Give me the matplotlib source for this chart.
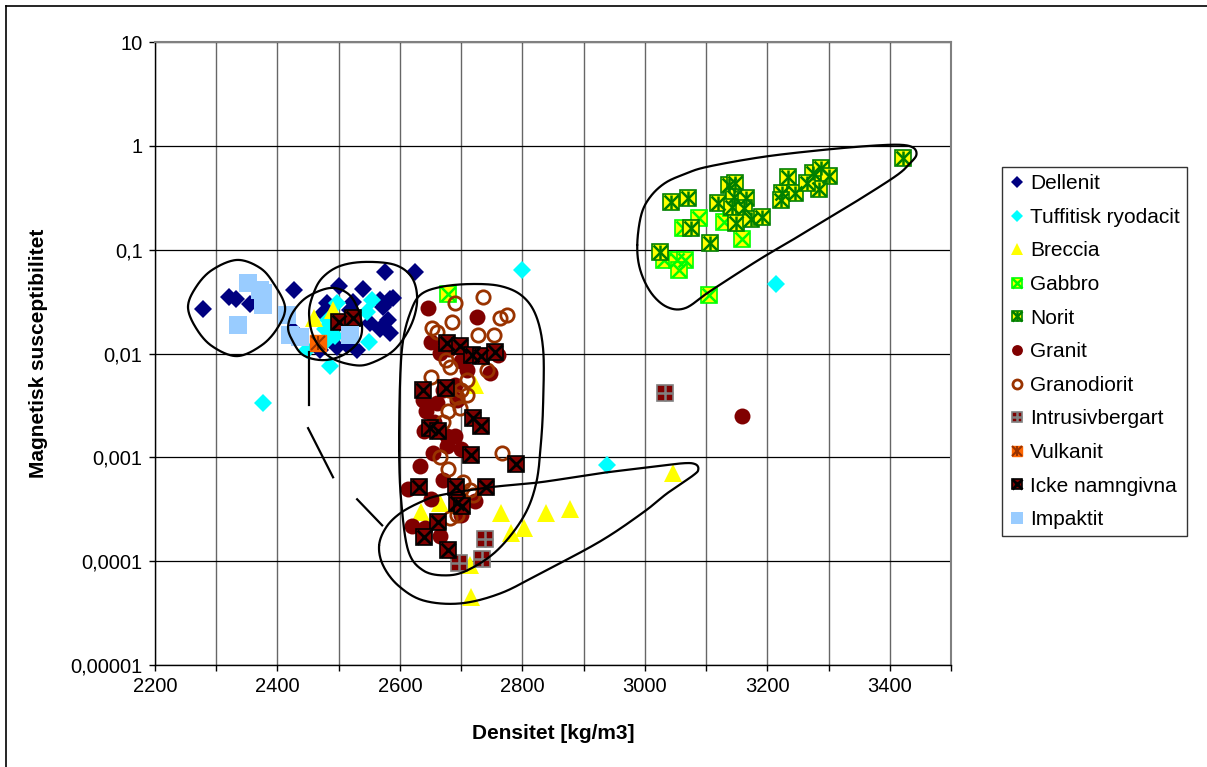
import numpy as np
import matplotlib.pyplot as plt
from matplotlib.lines import Line2D
from matplotlib.legend_handler import HandlerTuple
from matplotlib.ticker import FixedLocator, FixedFormatter, NullLocator

plt.rcParams['font.family'] = ['Liberation Sans', 'DejaVu Sans']

# density [kg/m3] and magnetic susceptibility per rock type
dellenit_x = [2278, 2321, 2332, 2355, 2427, 2500, 2540, 2576, 2584, 2568, 2573, 2581, 2584,
              2524, 2519, 2497, 2530, 2481, 2475, 2470, 2551, 2568, 2486, 2513, 2625, 2589, 2425]
dellenit_y = [0.0268, 0.0348, 0.0333, 0.030, 0.0408, 0.045, 0.0415, 0.0614, 0.0337, 0.0329, 0.0281,
              0.0209, 0.0156, 0.0314, 0.0263, 0.0116, 0.0107, 0.0304, 0.0243, 0.0107, 0.0195, 0.0174,
              0.0136, 0.012, 0.061, 0.034, 0.017]

tuff_x = [2377, 2486, 2497, 2554, 2546, 2549, 2478, 2448, 2481, 2494, 2483, 2800, 2939, 3215]
tuff_y = [0.0033, 0.0075, 0.0304, 0.0329, 0.025, 0.0128, 0.0174, 0.0107, 0.0136, 0.0147, 0.0209,
          0.0637, 0.00084, 0.0467]

breccia_x = [2459, 2491, 2723, 3046, 2635, 2665, 2765, 2803, 2782, 2839, 2877, 2714, 2716]
breccia_y = [0.0218, 0.0263, 0.0050, 0.0007, 0.00030, 0.00036, 0.00029, 0.00021, 0.000185,
             0.00029, 0.00032, 0.000092, 0.000045]

gabbro_x = [2678, 3088, 3063, 3129, 3159, 3031, 3052, 3066, 3055, 3104, 3140, 3160]
gabbro_y = [0.0374, 0.201, 0.161, 0.186, 0.126, 0.0796, 0.0796, 0.0796, 0.0637, 0.0366, 0.25, 0.2]

norit_x = [3043, 3071, 3076, 3024, 3107, 3120, 3138, 3148, 3146, 3143, 3165, 3162, 3149, 3174,
           3192, 3224, 3234, 3245, 3275, 3287, 3300, 3285, 3265, 3422, 3222]
norit_y = [0.288, 0.315, 0.162, 0.095, 0.116, 0.282, 0.421, 0.440, 0.322, 0.258, 0.315, 0.252,
           0.181, 0.198, 0.207, 0.352, 0.502, 0.352, 0.549, 0.614, 0.514, 0.384, 0.440, 0.766, 0.301]

granit_x = [2646, 2726, 2650, 2666, 2760, 2747, 2710, 2638, 2661, 2693, 2643, 2677, 2690, 2677,
            2654, 2633, 2613, 2722, 2620, 2641, 2666, 3159, 2680, 2700, 2690, 2670, 2655, 2640,
            2700, 2670, 2650, 2700]
granit_y = [0.0274, 0.0224, 0.0129, 0.0101, 0.0097, 0.0065, 0.0069, 0.0036, 0.0033, 0.0036, 0.0028,
            0.0016, 0.0016, 0.00128, 0.00109, 0.00082, 0.00050, 0.00038, 0.00022, 0.00021, 0.000174,
            0.00249, 0.011, 0.0085, 0.005, 0.0045, 0.0022, 0.0018, 0.0012, 0.0006, 0.0004, 0.00028]

granodiorit_x = [2736, 2690, 2685, 2764, 2775, 2653, 2661, 2727, 2753, 2743, 2675, 2650, 2710,
                 2682, 2693, 2698, 2678, 2666, 2678, 2766, 2703, 2714, 2719, 2693, 2681, 2690,
                 2700, 2680, 2710, 2670]
granodiorit_y = [0.035, 0.0306, 0.0201, 0.0220, 0.0235, 0.0176, 0.0161, 0.0150, 0.0150, 0.0069,
                 0.0086, 0.0059, 0.0055, 0.0074, 0.0038, 0.0030, 0.0028, 0.0010, 0.00078, 0.0011,
                 0.00058, 0.00048, 0.00043, 0.00028, 0.00026, 0.012, 0.0045, 0.0045, 0.004, 0.0022]

intrusiv_x = [3033, 2739, 2734, 2697]
intrusiv_y = [0.0042, 0.000162, 0.000106, 0.0000953]

vulkanit_x = [2466]
vulkanit_y = [0.0126]

icke_x = [2500, 2524, 2677, 2698, 2717, 2733, 2755, 2638, 2675, 2649, 2662, 2719, 2732, 2716,
          2790, 2631, 2691, 2740, 2693, 2701, 2663, 2640, 2679]
icke_y = [0.0202, 0.0218, 0.0126, 0.0118, 0.0097, 0.0094, 0.0103, 0.0045, 0.0047, 0.0019, 0.0018,
          0.0024, 0.0020, 0.00105, 0.00086, 0.00052, 0.00052, 0.00052, 0.00036, 0.00034, 0.00024,
          0.00017, 0.000127]

impaktit_x = [2352, 2377, 2377, 2335, 2415, 2421, 2437, 2519, 2372]
impaktit_y = [0.0474, 0.038, 0.0293, 0.0188, 0.0234, 0.0150, 0.0145, 0.0150, 0.041]

# hand-drawn grouping outlines: density and log10(susceptibility) at the nodes
loop1_x = [2253.9, 2267.0, 2293.1, 2334.0, 2371.6, 2394.4, 2412.4, 2401.0, 2374.8, 2334.0, 2293.1, 2267.0]
loop1_ly = [-1.552, -1.360, -1.196, -1.099, -1.176, -1.331, -1.552, -1.745, -1.918, -2.025, -1.929, -1.755]
loop2_x = [2417.3, 2425.5, 2448.4, 2485.9, 2513.7, 2530.1, 2538.2, 2531.7, 2507.2, 2474.5, 2441.8, 2423.9]
loop2_ly = [-1.745, -1.601, -1.456, -1.369, -1.417, -1.552, -1.745, -1.890, -2.015, -2.064, -2.015, -1.870]
loop3_x = [2451.6, 2459.8, 2474.5, 2502.3, 2543.1, 2592.2, 2619.9, 2628.1, 2618.3, 2592.2, 2556.2,
           2526.8, 2485.9, 2459.8]
loop3_ly = [-1.610, -1.407, -1.263, -1.157, -1.118, -1.147, -1.272, -1.485, -1.726, -1.957, -2.085,
            -2.113, -2.035, -1.851]
loop4_x = [2598.7, 2600.3, 2605.2, 2616.7, 2633.0, 2665.7, 2714.7, 2763.7, 2799.7, 2822.5, 2834.0,
           2834.0, 2830.7, 2822.5, 2801.3, 2758.8, 2709.8, 2673.9, 2637.9, 2613.4, 2602.0]
loop4_ly = [-2.932, -2.257, -1.871, -1.610, -1.437, -1.360, -1.331, -1.350, -1.446, -1.639, -1.967,
            -2.449, -2.835, -3.250, -3.578, -3.896, -4.089, -4.137, -4.089, -3.896, -3.414]
loop5_x = [2566.0, 2577.5, 2600.3, 2633.0, 2665.7, 2747.4, 2829.1, 2927.1, 3008.8, 3062.7, 3082.4,
           3087.3, 3079.1, 3036.6, 2997.4, 2927.1, 2829.1, 2763.7, 2698.4, 2637.9, 2597.1, 2572.5]
loop5_ly = [-3.848, -3.674, -3.539, -3.433, -3.365, -3.288, -3.240, -3.153, -3.095, -3.057, -3.066,
            -3.115, -3.173, -3.346, -3.530, -3.809, -4.118, -4.311, -4.407, -4.378, -4.234, -4.041]
loop6_x = [2987.6, 2994.1, 3008.8, 3033.3, 3066.0, 3102.0, 3193.5, 3291.5, 3368.3, 3417.3, 3438.6,
           3443.5, 3433.7, 3412.4, 3356.9, 3302.9, 3249.0, 3193.5, 3139.5, 3102.0, 3066.0, 3036.6,
           3010.5, 2992.5]
loop6_ly = [-0.955, -0.665, -0.492, -0.357, -0.270, -0.202, -0.106, -0.039, 0.000, 0.010, -0.019,
            -0.087, -0.164, -0.280, -0.492, -0.685, -0.878, -1.071, -1.273, -1.418, -1.563, -1.553,
            -1.418, -1.196]
# broken connector between the Dellenit group and the Breccia loop
link_x = [(2451.6, 2451.6), (2450.0, 2490.8), (2530.1, 2571.0)]
link_ly = [(-1.985, -2.496), (-2.719, -3.192), (-3.404, -3.655)]


def closed_curve(xs, ys, n=24):
    # closed Catmull-Rom spline through the nodes
    p = np.column_stack([xs, ys])
    m = len(p)
    t = np.linspace(0, 1, n, endpoint=False)[:, None]
    out = []
    for i in range(m):
        p0, p1, p2, p3 = p[i - 1], p[i], p[(i + 1) % m], p[(i + 2) % m]
        seg = 0.5 * ((2 * p1) + (-p0 + p2) * t + (2 * p0 - 5 * p1 + 4 * p2 - p3) * t ** 2
                     + (-p0 + 3 * p1 - 3 * p2 + p3) * t ** 3)
        out.append(seg)
    out.append(p[:1])
    out = np.vstack(out)
    return out[:, 0], out[:, 1]


W, H = 1207, 767
fig = plt.figure(figsize=(W / 100, H / 100), dpi=100)
ax = fig.add_axes([155 / W, 1 - 665 / H, (951 - 155) / W, (665 - 42) / H])

sq = 11.6
h_dell = ax.plot(dellenit_x, dellenit_y, ls='none', marker='D', ms=9.2, mfc='#000080', mec='#000080', mew=0)[0]
h_tuff = ax.plot(tuff_x, tuff_y, ls='none', marker='D', ms=9.2, mfc='#00FFFF', mec='#00FFFF', mew=0)[0]
h_brec = ax.plot(breccia_x, breccia_y, ls='none', marker='^', ms=13, mfc='#FFFF00', mec='#FFFF00', mew=0)[0]

h_gab = ax.plot(gabbro_x, gabbro_y, ls='none', marker='s', ms=sq, mfc='#FFFF00', mec='#00FF00', mew=1.2)[0]
h_gab2 = ax.plot(gabbro_x, gabbro_y, ls='none', marker='x', ms=sq - 1, mec='#00FF00', mew=1.8)[0]

h_nor = ax.plot(norit_x, norit_y, ls='none', marker='s', ms=sq, mfc='#FFFF00', mec='#008000', mew=1.2)[0]
h_nor2 = ax.plot(norit_x, norit_y, ls='none', marker='x', ms=sq - 1, mec='#008000', mew=1.8)[0]
h_nor3 = ax.plot(norit_x, norit_y, ls='none', marker='|', ms=sq - 1, mec='#008000', mew=1.8)[0]

h_gran = ax.plot(granit_x, granit_y, ls='none', marker='o', ms=11.5, mfc='#800000', mec='#800000', mew=0)[0]
h_gdio = ax.plot(granodiorit_x, granodiorit_y, ls='none', marker='o', ms=9.6, mfc='none', mec='#993300', mew=2.0)[0]

h_intr = ax.plot(intrusiv_x, intrusiv_y, ls='none', marker='s', ms=sq, mfc='#800000', mec='#808080', mew=1.2)[0]
h_intr2 = ax.plot(intrusiv_x, intrusiv_y, ls='none', marker='+', ms=sq, mec='#808080', mew=1.8)[0]

h_vulk = ax.plot(vulkanit_x, vulkanit_y, ls='none', marker='s', ms=sq, mfc='#FF6600', mec='#FF6600', mew=1.0)[0]
h_vulk2 = ax.plot(vulkanit_x, vulkanit_y, ls='none', marker='x', ms=sq - 2, mec='#993300', mew=1.5)[0]
h_vulk3 = ax.plot(vulkanit_x, vulkanit_y, ls='none', marker='|', ms=sq - 2, mec='#993300', mew=1.5)[0]

h_icke = ax.plot(icke_x, icke_y, ls='none', marker='s', ms=sq, mfc='#800000', mec='black', mew=1.2)[0]
h_icke2 = ax.plot(icke_x, icke_y, ls='none', marker='x', ms=sq - 1, mec='black', mew=2.0)[0]

h_imp = ax.plot(impaktit_x, impaktit_y, ls='none', marker='s', ms=12.4, mfc='#99CCFF', mec='#99CCFF', mew=0)[0]

for lx, ly in [(loop1_x, loop1_ly), (loop2_x, loop2_ly), (loop3_x, loop3_ly),
               (loop4_x, loop4_ly), (loop5_x, loop5_ly), (loop6_x, loop6_ly)]:
    cx, cy = closed_curve(lx, ly)
    ax.plot(cx, 10 ** cy, color='black', lw=1.6, zorder=5, solid_capstyle='round')
for sx, sy in zip(link_x, link_ly):
    ax.plot(sx, 10 ** np.array(sy), color='black', lw=1.6, zorder=5)

ax.set_yscale('log')
ax.set_xlim(2200, 3500)
ax.set_ylim(1e-5, 10)

xt = np.arange(2200, 3501, 100)
ax.xaxis.set_major_locator(FixedLocator(xt))
ax.xaxis.set_major_formatter(FixedFormatter([str(v) if (v - 2200) % 200 == 0 else '' for v in xt]))
yt = [1e-5, 1e-4, 1e-3, 1e-2, 1e-1, 1, 10]
ax.yaxis.set_major_locator(FixedLocator(yt))
ax.yaxis.set_major_formatter(FixedFormatter(['0,00001', '0,0001', '0,001', '0,01', '0,1', '1', '10']))
ax.yaxis.set_minor_locator(NullLocator())

ax.xaxis.grid(True, color='#666666', lw=1.0)
ax.yaxis.grid(True, color='black', lw=0.9)
ax.set_axisbelow(True)
ax.tick_params(direction='out', length=4, width=1, pad=5, labelsize=14.5, colors='black')
for s in ['left', 'bottom']:
    ax.spines[s].set_color('black')
    ax.spines[s].set_linewidth(1.0)
for s in ['top', 'right']:
    ax.spines[s].set_color('#808080')
    ax.spines[s].set_linewidth(1.5)

ax.set_xlabel('Densitet [kg/m3]', fontsize=15, fontweight='bold', labelpad=20)
ax.set_ylabel('Magnetisk susceptibilitet', fontsize=15, fontweight='bold', labelpad=16)

handles = [h_dell, h_tuff, h_brec, (h_gab, h_gab2), (h_nor, h_nor2, h_nor3), h_gran, h_gdio,
           (h_intr, h_intr2), (h_vulk, h_vulk2, h_vulk3), (h_icke, h_icke2), h_imp]
labels = ['Dellenit', 'Tuffitisk ryodacit', 'Breccia', 'Gabbro', 'Norit', 'Granit', 'Granodiorit',
          'Intrusivbergart', 'Vulkanit', 'Icke namngivna', 'Impaktit']
leg = fig.legend(handles, labels, loc='upper left', bbox_to_anchor=(1002 / W, 1 - 167 / H),
                 handler_map={tuple: HandlerTuple(ndivide=1)}, fontsize=15, frameon=True,
                 fancybox=False, shadow=False, borderpad=0.35, labelspacing=0.70,
                 handlelength=0.7, handletextpad=0.3, markerscale=0.68, borderaxespad=0)
leg.get_frame().set_edgecolor('black')
leg.get_frame().set_linewidth(1.0)

# chart-area border
fig.add_artist(Line2D([6 / W, 6 / W], [0, 1 - 6 / H], transform=fig.transFigure, color='black', lw=1.2))
fig.add_artist(Line2D([6 / W, 1], [1 - 6 / H, 1 - 6 / H], transform=fig.transFigure, color='black', lw=1.2))

fig.savefig('out.png', dpi=100)
